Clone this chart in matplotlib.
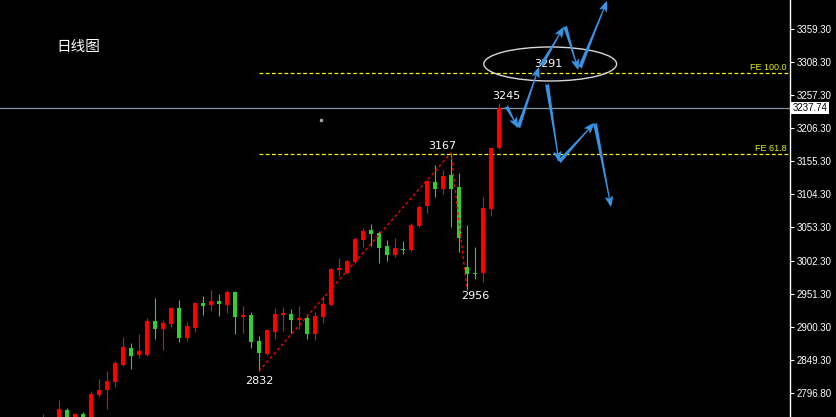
import numpy as np
import matplotlib
matplotlib.use("Agg")
import matplotlib.pyplot as plt
from matplotlib.patches import Ellipse, FancyArrowPatch

nan = np.nan

# daily candles (index = bar position)
opens = [2745, nan, 2755, 2771.5, 2755, 2765.4, 2755, 2794.7, 2802.4, 2814.8,
         2841.0, 2867.3, 2856.5, 2856.5, 2908.9, 2896.6, 2904.3, 2929.0, 2882.7, 2898.1,
         2936.7, 2933.6, 2939.8, 2933.6, 2953.7, 2915.1, 2918.2, 2878.1, 2858.0, 2891.9,
         2918.2, 2919.8, 2910.5, 2913.6, 2888.9, 2915.1, 2933.6, 2987.7, 2983.1, 3000.0,
         3034.0, 3049.4, 3044.8, 3024.7, 3010.8, 3020.1, 3018.6, 3055.6, 3086.5, 3123.5,
         3112.7, 3134.4, 3115.8, 2992.3, 2983.1, 2983.1, 3081.9, 3176.0]
closes = [2758, nan, 2773.1, 2756, 2765.4, 2755, 2796.2, 2802.4, 2816.3, 2844.1,
          2868.8, 2855.0, 2862.6, 2908.9, 2896.6, 2905.9, 2929.0, 2882.7, 2901.2, 2936.7,
          2932.1, 2939.8, 2935.2, 2953.7, 2915.1, 2918.2, 2876.5, 2859.5, 2895.1, 2919.8,
          2921.3, 2910.5, 2913.6, 2888.9, 2916.7, 2935.2, 2989.2, 2990.8, 3001.6, 3035.6,
          3047.9, 3043.3, 3021.6, 3010.8, 3021.6, 3018.6, 3057.1, 3084.9, 3125.1, 3112.7,
          3132.8, 3112.7, 3037.1, 2981.5, 2981.5, 3083.4, 3176.0, 3237.74]
highs = [2765.4, nan, 2787.0, 2774.6, 2766.9, 2768.5, 2800.9, 2819.4, 2831.8, 2847.2,
         2884.3, 2875.0, 2888.9, 2913.6, 2944.5, 2910.5, 2930.6, 2941.4, 2907.4, 2938.3,
         2947.5, 2956.8, 2950.6, 2956.8, 2955.3, 2932.1, 2922.8, 2885.8, 2896.6, 2929.0,
         2930.6, 2927.5, 2932.1, 2919.8, 2922.8, 2947.5, 2990.8, 3006.2, 3003.1, 3038.6,
         3052.5, 3058.7, 3047.9, 3034.0, 3037.1, 3032.5, 3060.2, 3088.0, 3126.6, 3149.8,
         3142.1, 3168.3, 3137.4, 3057.1, 3023.2, 3100.4, 3176.0, 3245.5]
lows = [2740, nan, 2750, 2750, 2750, 2750, 2752, 2791.6, 2773.1, 2807.0,
        2839.5, 2834.8, 2851.8, 2855.0, 2881.1, 2864.2, 2899.7, 2876.5, 2878.1, 2891.9,
        2918.2, 2924.4, 2916.7, 2921.3, 2888.9, 2890.4, 2867.3, 2831.8, 2856.5, 2881.1,
        2893.5, 2890.4, 2896.6, 2881.1, 2879.6, 2905.9, 2932.1, 2978.4, 2981.5, 2998.5,
        3023.2, 3024.7, 2998.5, 3001.6, 3007.7, 3012.4, 3017.0, 3054.1, 3075.7, 3100.4,
        3105.0, 3054.1, 3015.5, 2956.8, 2973.8, 2969.1, 3071.0, 3174.5]

# right axis ticks
tick_values = [3359.3, 3308.3, 3257.3, 3206.3, 3155.3, 3104.3, 3053.3, 3002.3,
               2951.3, 2900.3, 2849.3, 2798.3]
tick_labels = ["3359.30", "3308.30", "3257.30", "3206.30", "3155.30", "3104.30",
               "3053.30", "3002.30", "2951.30", "2900.30", "2849.30", "2796.80"]

last_price = 3237.74
zigzag_idx = [27, 51, 53]          # swing low -> high -> low
fe_start = 27
fe_levels = [3292.0, 3166.0]
fe_names = ["FE 100.0", "FE 61.8"]

# projected path arrows (bar index, price)
arrows = [
    ((57.9, 3240.9), (59.4, 3206.9)),
    ((59.4, 3206.9), (62.0, 3301.1)),
    ((62.25, 3302.6), (65.1, 3362.9)),
    ((65.25, 3364.4), (66.9, 3296.5)),
    ((67.1, 3299.5), (70.5, 3403.0)),
    ((63.0, 3274.9), (64.5, 3154.4)),
    ((64.5, 3154.4), (68.9, 3214.6)),
    ((69.0, 3214.6), (71.0, 3085.0)),
]

UP = "#ff0000"
DOWN = "#32cd32"
BLUE = "#3993e3"

fig = plt.figure(figsize=(8.36, 4.17), dpi=100, facecolor="black")
ax = fig.add_axes([0, 0, 790 / 836, 1])
ax.set_facecolor("black")

x = np.arange(len(opens))
o = np.array(opens)
c = np.array(closes)
h = np.array(highs)
l = np.array(lows)
colors = [UP if cc >= oo else DOWN for oo, cc in zip(o, c)]

# candles
ax.vlines(x, l, h, colors=colors, linewidth=0.8, zorder=2)
body = np.maximum(np.abs(c - o), 1.6)
ax.bar(x, body, bottom=np.minimum(o, c), width=0.62, color=colors,
       linewidth=0, zorder=3)

# zigzag
zx = zigzag_idx
zy = [l[zx[0]], h[zx[1]], l[zx[2]]]
ax.plot(zx, zy, color="#ff0000", linewidth=1, linestyle=(0, (2, 2)), zorder=4)

# fibonacci expansion levels
for lvl, name in zip(fe_levels, fe_names):
    ax.plot([fe_start, 93.4], [lvl, lvl], color="#ffff00", linewidth=0.9,
            linestyle=(0, (3, 2)), zorder=1)
    ax.text(92.9, lvl + 2, name, color="#e6f000", fontsize=6.5,
            ha="right", va="bottom", family="Liberation Sans")

# current price line
ax.axhline(last_price, color="#8393a7", linewidth=0.9, zorder=1)
ax.plot([34.75], [3219.3], marker="s", markersize=1.5, color="#a0a0a0",
        linestyle="none")

# labels
ax.annotate("2832", (zx[0], l[zx[0]]), xytext=(0, -7.5), textcoords="offset points",
            color="white", fontsize=8, ha="center", va="center")
ax.annotate("2956", (zx[2], l[zx[2]]), xytext=(6, -4.5), textcoords="offset points",
            color="white", fontsize=8, ha="center", va="center")
ax.annotate("3167", (zx[1], h[zx[1]]), xytext=(-6, 5), textcoords="offset points",
            color="white", fontsize=8, ha="center", va="center")
ax.annotate("3245", (57, h[57]), xytext=(5, 5), textcoords="offset points",
            color="white", fontsize=8, ha="center", va="center")
ax.text(63.2, 3305.7, "3291", color="white", fontsize=8, ha="center", va="center",
        zorder=6)
ax.text(4.4, 3332.0, "日线图", color="white", fontsize=10.5, ha="center", va="center",
        family=["Noto Sans CJK SC", "DejaVu Sans"])

ax.add_patch(Ellipse((63.4, 3305.7), 16.6, 52.5, fill=False, edgecolor="#d8d8d8",
                     linewidth=1, zorder=5))

for start, end in arrows:
    ax.add_patch(FancyArrowPatch(start, end,
                                 arrowstyle="fancy,head_length=0.6,head_width=0.45,tail_width=0.22",
                                 mutation_scale=13, color=BLUE, shrinkA=0, shrinkB=0,
                                 linewidth=0, zorder=6))

ax.set_xlim(-5.375, 93.375)
ax.set_ylim(2760.7, 3404.5)

for s in ["left", "top", "bottom"]:
    ax.spines[s].set_visible(False)
ax.spines["right"].set_color("white")
ax.spines["right"].set_linewidth(1)
ax.set_xticks([])
ax.yaxis.tick_right()
ax.set_yticks(tick_values)
ax.set_yticklabels(tick_labels, family="Liberation Sans")
ax.tick_params(axis="y", colors="white", length=3, width=0.8, labelsize=7, pad=2)

# price tag on the axis
ax.text(1.003, (last_price - 2760.7) / (3404.5 - 2760.7), "3237.74",
        transform=ax.transAxes, fontsize=7, color="black", ha="left", va="center",
        family="Liberation Sans",
        bbox=dict(boxstyle="square,pad=0.15", facecolor="white", edgecolor="none"),
        clip_on=False, zorder=10)

fig.savefig("out.png", dpi=100, facecolor="black")
